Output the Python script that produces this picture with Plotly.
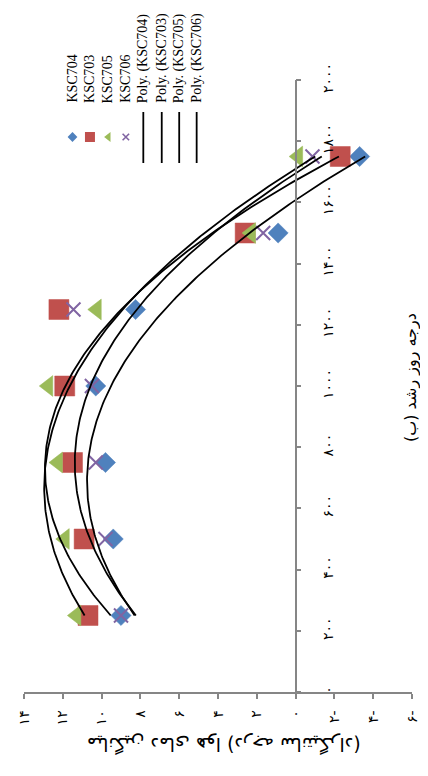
import numpy as np
import plotly.graph_objects as go

# ---------------- data ----------------
degree_days = [250, 500, 750, 1000, 1250, 1500, 1750]
ksc704 = [9.0, 9.4, 9.8, 10.3, 8.25, 0.9, -3.3]
ksc703 = [10.7, 10.9, 11.5, 11.9, 12.2, 2.6, -2.3]
ksc705 = [11.3, 11.9, 12.25, 12.75, 10.25, 2.3, -0.13]
ksc706 = [9.0, 9.8, 10.3, 10.5, 11.45, 1.67, -0.87]

series_names = ["KSC704", "KSC703", "KSC705", "KSC706"]
dd_ticks = list(range(0, 2001, 200))
val_ticks = list(range(-6, 15, 2))

x_title = "درجه روز رشد (ب)"
y_title = "میانگین دمای هوا (درجه سانتیگراد)"

# ---------------- helpers ----------------
FA = str.maketrans("0123456789", "۰۱۲۳۴۵۶۷۸۹")


def fa(n):
    return str(n).translate(FA)


def val_label(v):
    return fa(abs(v)) + "-" if v < 0 else fa(v)


# page body adds an 8px offset; plot area in screen pixels
OFF = 8
L, R, T, B = 20, 420, 80, 692
W, H = 428 - OFF, 776 - OFF


def px(x):
    return (x - L) / (R - L)


def py(y):
    return (B - y) / (B - T)


colors = ["#4F81BD", "#C0504D", "#9BBB59", "#8064A2"]
symbols = ["diamond", "square", "triangle-left", "x-thin"]
sizes = [15.5, 20, 18, 14]
small_sizes = [7.5, 10, 8.5, 6.5]
data = [ksc704, ksc703, ksc705, ksc706]

fig = go.Figure()

# markers (rotated chart: value on x, degree-days on y)
for name, vals, c, s, sz in zip(series_names, data, colors, symbols, sizes):
    if s == "x-thin":
        marker = dict(symbol=s, size=sz, line=dict(color=c, width=2))
    else:
        marker = dict(symbol=s, size=sz, color=c, line=dict(color=c, width=0.5))
    fig.add_trace(go.Scatter(x=vals, y=degree_days, mode="markers",
                             marker=marker, name=name, showlegend=False))

# polynomial (order 2) trendlines, as in the source chart
dd_fine = np.linspace(min(degree_days), max(degree_days), 200)
for name, vals in zip(series_names, data):
    coef = np.polyfit(degree_days, vals, 2)
    fig.add_trace(go.Scatter(x=np.polyval(coef, dd_fine), y=dd_fine, mode="lines",
                             line=dict(color="black", width=1.8),
                             name="Poly. (" + name + ")", showlegend=False))

# ---------------- rotated legend ----------------
leg_marker_x = [70, 88, 107, 125]
leg_marker_y = 137
leg_line_x = [143, 162, 180, 198]
for i in range(4):
    s = symbols[i]
    if s == "x-thin":
        marker = dict(symbol=s, size=small_sizes[i], line=dict(color=colors[i], width=1.6))
    else:
        marker = dict(symbol=s, size=small_sizes[i], color=colors[i], line=dict(width=0))
    fig.add_trace(go.Scatter(x=[leg_marker_x[i]], y=[leg_marker_y], mode="markers",
                             marker=marker, xaxis="x2", yaxis="y2", showlegend=False,
                             hoverinfo="skip"))
    fig.add_trace(go.Scatter(x=[leg_line_x[i], leg_line_x[i]], y=[112, 163], mode="lines",
                             line=dict(color="black", width=1.8), xaxis="x2", yaxis="y2",
                             showlegend=False, hoverinfo="skip"))

annotations = []
leg_text_x = leg_marker_x + leg_line_x
leg_texts = series_names + ["Poly. (" + n + ")" for n in series_names]
for tx, t in zip(leg_text_x, leg_texts):
    annotations.append(dict(x=px(tx), y=py(105), xref="paper", yref="paper", text=t,
                            textangle=-90, showarrow=False, xanchor="center", yanchor="bottom",
                            font=dict(family="Liberation Serif", size=14, color="black")))

# axis titles (rotated like the source picture)
annotations.append(dict(x=px(226), y=py(745), xref="paper", yref="paper", text=y_title,
                        textangle=180, showarrow=False, xanchor="center", yanchor="middle",
                        font=dict(family="DejaVu Sans", size=19, color="black")))
annotations.append(dict(x=px(419), y=py(378), xref="paper", yref="paper", text=x_title,
                        textangle=-90, showarrow=False, xanchor="center", yanchor="middle",
                        font=dict(family="DejaVu Sans", size=16, color="black")))

axis_col = "#868686"
fig.update_layout(
    width=W, height=H,
    margin=dict(l=L - OFF, r=W - (R - OFF), t=T - OFF, b=H - (B - OFF), pad=0),
    paper_bgcolor="white", plot_bgcolor="white",
    showlegend=False,
    xaxis=dict(range=[14, -6], tickvals=val_ticks, ticktext=[val_label(v) for v in val_ticks],
               showgrid=False, zeroline=False, showline=True, linecolor=axis_col, linewidth=1.5,
               ticks="outside", ticklen=5, tickcolor=axis_col, tickwidth=1.5, tickangle=-90,
               ticklabelstandoff=6,
               tickfont=dict(family="DejaVu Sans", size=14, color="black")),
    yaxis=dict(range=[0, 2000], tickvals=dd_ticks, ticktext=[fa(v) for v in dd_ticks],
               anchor="free", position=0.7, side="right",
               showgrid=False, zeroline=False, showline=True, linecolor=axis_col, linewidth=1.5,
               ticks="outside", ticklen=5, tickcolor=axis_col, tickwidth=1.5, tickangle=-90,
               ticklabelstandoff=15,
               tickfont=dict(family="DejaVu Sans", size=14, color="black")),
    xaxis2=dict(range=[L, R], overlaying="x", anchor="y2", visible=False),
    yaxis2=dict(range=[B, T], overlaying="y", anchor="x2", visible=False),
    annotations=annotations,
)

fig.write_html("out.html")
